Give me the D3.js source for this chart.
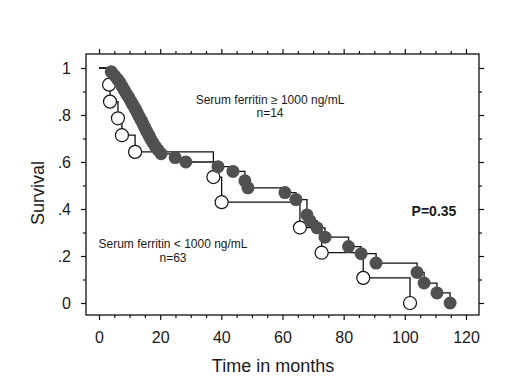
<!DOCTYPE html>
<html><head><meta charset="utf-8">
<script src="https://cdn.jsdelivr.net/npm/d3@7"></script>
<style>body{margin:0;background:#fff}svg{display:block}text{font-family:Arial,"Liberation Sans",sans-serif;fill:#1a1a1a}</style>
</head><body>
<script>
// Open-circle group (events)
const openT = [3.3, 3.6, 6.2, 7.5, 11.8, 37.4, 40.1, 65.7, 72.8, 86.4, 101.7];
const openS = [0.929, 0.857, 0.786, 0.714, 0.643, 0.536, 0.429, 0.321, 0.214, 0.107, 0.0];
// Filled-circle group (events)
const filledT = [4.0, 5.05, 6.1, 6.9, 7.6, 8.3, 9.0, 9.8, 10.5, 11.2, 11.9, 12.5, 13.1, 13.8, 14.4, 15.0, 15.6, 16.3, 16.9, 17.6, 18.4, 19.3, 20.3,
  24.9, 28.4, 38.9, 43.8, 47.7, 48.7, 60.8, 64.4, 68.0, 69.0, 71.3, 73.9, 81.6, 85.7, 90.6, 104.0, 106.3, 110.5, 114.8];
const filledS = [0.984, 0.968, 0.952, 0.937, 0.921, 0.905, 0.889, 0.873, 0.857, 0.841, 0.825, 0.810, 0.794, 0.778, 0.762, 0.746, 0.730, 0.714, 0.698, 0.683, 0.667, 0.651, 0.635,
  0.619, 0.600, 0.580, 0.560, 0.520, 0.490, 0.470, 0.440, 0.375, 0.350, 0.320, 0.280, 0.240, 0.210, 0.170, 0.130, 0.085, 0.043, 0.0];
const xTicks = [0, 20, 40, 60, 80, 100, 120];
const yTicks = [0, 0.2, 0.4, 0.6, 0.8, 1];
const yTickLabels = ["0", ".2", ".4", ".6", ".8", "1"];
const labelHigh = ["Serum ferritin \u2265 1000 ng/mL", "n=14"];
const labelLow = ["Serum ferritin < 1000 ng/mL", "n=63"];
const pLabel = "P=0.35";

const W = 520, H = 383;
const svg = d3.select("body").append("svg").attr("width", W).attr("height", H);
const x = d3.scaleLinear().domain([0, 120]).range([99, 466]);
const y = d3.scaleLinear().domain([0, 1]).range([303, 68]);
const frame = {l: 86, t: 54, r: 479, b: 315};

const minorX = d3.range(0, 121, 5).filter(v => v % 20 !== 0);
const minorY = d3.range(0.1, 1.0, 0.2);

function styleAxis(g) {
  g.select(".domain").remove();
  g.selectAll("line").attr("stroke", "#111").attr("stroke-width", 1.2);
  g.selectAll("text").style("font-size", "16px").attr("fill", "#2a2a2a");
}
// bottom
svg.append("g").attr("transform", `translate(0,${frame.b})`)
  .call(d3.axisBottom(x).tickValues(xTicks).tickSize(5).tickPadding(12).tickFormat(d3.format("d"))).call(styleAxis);
svg.append("g").attr("transform", `translate(0,${frame.b})`)
  .call(d3.axisBottom(x).tickValues(minorX).tickSize(3).tickFormat("")).call(styleAxis);
// top
svg.append("g").attr("transform", `translate(0,${frame.t})`)
  .call(d3.axisTop(x).tickValues(xTicks).tickSize(5).tickFormat("")).call(styleAxis);
svg.append("g").attr("transform", `translate(0,${frame.t})`)
  .call(d3.axisTop(x).tickValues(minorX).tickSize(3).tickFormat("")).call(styleAxis);
// left
svg.append("g").attr("transform", `translate(${frame.l},0)`)
  .call(d3.axisLeft(y).tickValues(yTicks).tickSize(5).tickPadding(10).tickFormat((d, i) => yTickLabels[i])).call(styleAxis);
svg.append("g").attr("transform", `translate(${frame.l},0)`)
  .call(d3.axisLeft(y).tickValues(minorY).tickSize(3).tickFormat("")).call(styleAxis);
// right
svg.append("g").attr("transform", `translate(${frame.r},0)`)
  .call(d3.axisRight(y).tickValues(yTicks).tickSize(5).tickFormat("")).call(styleAxis);
svg.append("g").attr("transform", `translate(${frame.r},0)`)
  .call(d3.axisRight(y).tickValues(minorY).tickSize(3).tickFormat("")).call(styleAxis);

svg.append("rect").attr("x", frame.l).attr("y", frame.t)
  .attr("width", frame.r - frame.l).attr("height", frame.b - frame.t)
  .attr("fill", "none").attr("stroke", "#111").attr("stroke-width", 1.3);

const step = d3.line().x(d => x(d[0])).y(d => y(d[1])).curve(d3.curveStepAfter);
const openPts = [[0, 1]].concat(openT.map((t, i) => [t, openS[i]]));
const filledPts = [[0, 1]].concat(filledT.map((t, i) => [t, filledS[i]]));

svg.append("path").attr("d", step(openPts)).attr("fill", "none").attr("stroke", "#111").attr("stroke-width", 1.3);
svg.append("path").attr("d", step(filledPts)).attr("fill", "none").attr("stroke", "#111").attr("stroke-width", 1.3);

svg.append("g").selectAll("circle").data(openT).join("circle")
  .attr("cx", (d) => x(d)).attr("cy", (d, i) => y(openS[i])).attr("r", 6.5)
  .attr("fill", "#fff").attr("stroke", "#111").attr("stroke-width", 1.2);
svg.append("g").selectAll("circle").data(filledT).join("circle")
  .attr("cx", (d) => x(d)).attr("cy", (d, i) => y(filledS[i])).attr("r", 6.5)
  .attr("fill", "#505050");

// annotations
const ann = svg.append("g").style("font-size", "12px").attr("text-anchor", "middle");
ann.append("text").attr("x", 270).attr("y", 104).text(labelHigh[0]);
ann.append("text").attr("x", 270).attr("y", 117).text(labelHigh[1]);
ann.append("text").attr("x", 173).attr("y", 248).text(labelLow[0]);
ann.append("text").attr("x", 173).attr("y", 262).text(labelLow[1]);
svg.append("text").attr("x", 434).attr("y", 216).attr("text-anchor", "middle")
  .style("font-size", "14px").style("font-weight", "bold").text(pLabel);

svg.append("text").attr("x", 273).attr("y", 372).attr("text-anchor", "middle")
  .style("font-size", "18px").attr("fill", "#2a2a2a").text("Time in months");
svg.append("text").attr("transform", "translate(44,193) rotate(-90)").attr("text-anchor", "middle")
  .style("font-size", "18px").attr("fill", "#2a2a2a").text("Survival");
</script>
</body></html>
